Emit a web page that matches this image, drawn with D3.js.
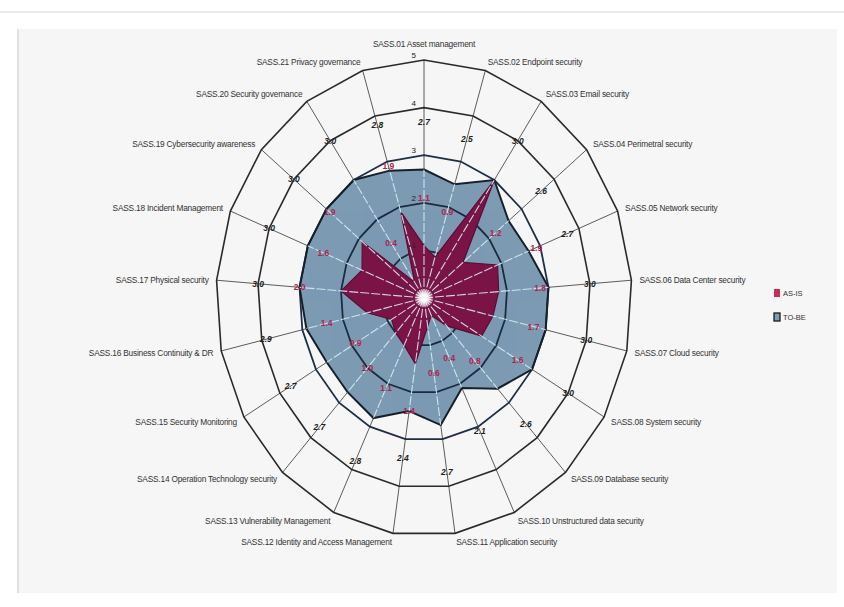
<!DOCTYPE html>
<html><head><meta charset="utf-8">
<script src="https://cdn.jsdelivr.net/npm/d3@7"></script>
<style>body{margin:0;background:#fff;} svg{display:block;}</style>
</head><body>
<svg id="c" width="844" height="607"></svg>
<script>
const categories = [
  "SASS.01 Asset management","SASS.02 Endpoint security","SASS.03 Email security",
  "SASS.04 Perimetral security","SASS.05 Network security","SASS.06 Data Center security",
  "SASS.07 Cloud security","SASS.08 System security","SASS.09 Database security",
  "SASS.10 Unstructured data security","SASS.11 Application security",
  "SASS.12 Identity and Access Management","SASS.13 Vulnerability Management",
  "SASS.14 Operation Technology security","SASS.15 Security Monitoring",
  "SASS.16 Business Continuity & DR","SASS.17 Physical security",
  "SASS.18 Incident Management","SASS.19 Cybersecurity awareness",
  "SASS.20 Security governance","SASS.21 Privacy governance"];
const asIs = [1.1,0.9,3.0,1.2,1.9,1.8,1.7,1.6,0.8,0.4,0.6,1.4,1.1,1.0,0.9,1.4,2.0,1.6,1.9,0.4,1.9];
const toBe = [2.7,2.5,3.0,2.6,2.7,3.0,3.0,3.0,2.6,2.1,2.7,2.4,2.8,2.7,2.7,2.9,3.0,3.0,3.0,3.0,2.8];
const ringTicks = [1,2,3,4,5];
const seriesNames = ["AS-IS","TO-BE"];

const W = 844, H = 607, cx = 424, cy = 298;
const svg = d3.select("#c");
svg.append("rect").attr("width", W).attr("height", H).attr("fill", "#ffffff");
svg.append("line").attr("x1", 0).attr("x2", W).attr("y1", 12).attr("y2", 12)
  .attr("stroke", "#e4e4e4").attr("stroke-width", 1.5);
svg.append("rect").attr("x", 18).attr("y", 29).attr("width", 819).attr("height", 564)
  .attr("fill", "#f6f6f6");
svg.append("line").attr("x1", 18).attr("x2", 18).attr("y1", 29).attr("y2", 593)
  .attr("stroke", "#d8d8d8").attr("stroke-width", 1.5);

const n = categories.length;
const angle = d3.scaleLinear().domain([0, n]).range([0, 2 * Math.PI]);
const rX = d3.scaleLinear().domain([0, 5]).range([0, 208]);
const rY = d3.scaleLinear().domain([0, 5]).range([0, 238]);
function pt(i, v) { const a = angle(i); return [cx + rX(v) * Math.sin(a), cy - rY(v) * Math.cos(a)]; }
const line = d3.line().curve(d3.curveLinearClosed);
const idx = d3.range(n);

const defs = svg.append("defs");
defs.append("clipPath").attr("id", "tobeClip").append("path")
  .attr("d", line(idx.map(i => pt(i, toBe[i]))));
const grad = defs.append("radialGradient").attr("id", "glow");
grad.append("stop").attr("offset", "0%").attr("stop-color", "#fff").attr("stop-opacity", 1);
grad.append("stop").attr("offset", "45%").attr("stop-color", "#fff").attr("stop-opacity", 0.8);
grad.append("stop").attr("offset", "100%").attr("stop-color", "#fff").attr("stop-opacity", 0);

// dark spokes
svg.append("g").selectAll("line").data(idx).join("line")
  .attr("x1", cx).attr("y1", cy)
  .attr("x2", i => pt(i, 5)[0]).attr("y2", i => pt(i, 5)[1])
  .attr("stroke", "#4a4a4a").attr("stroke-width", 0.9);

// outer rings
svg.append("g").selectAll("path").data([4, 5]).join("path")
  .attr("d", t => line(idx.map(i => pt(i, t))))
  .attr("fill", "none").attr("stroke", "#2a2a2a").attr("stroke-width", 1.6);

// TO-BE area
svg.append("path").attr("d", line(idx.map(i => pt(i, toBe[i]))))
  .attr("fill", "#7f9db2").attr("stroke", "none");

// inner rings
svg.append("g").selectAll("path").data([1, 2, 3]).join("path")
  .attr("d", t => line(idx.map(i => pt(i, t))))
  .attr("fill", "none").attr("stroke", "#1d2f44").attr("stroke-width", 1.8);

// TO-BE outline
svg.append("path").attr("d", line(idx.map(i => pt(i, toBe[i]))))
  .attr("fill", "none").attr("stroke", "#17222e").attr("stroke-width", 2);

// AS-IS area
svg.append("path").attr("d", line(idx.map(i => pt(i, asIs[i]))))
  .attr("fill", "#7b1748").attr("stroke", "#5c0f35").attr("stroke-width", 1.2)
  .attr("stroke-linejoin", "miter");

// light spokes inside TO-BE
svg.append("g").attr("clip-path", "url(#tobeClip)").selectAll("line").data(idx).join("line")
  .attr("x1", cx).attr("y1", cy)
  .attr("x2", i => pt(i, 5)[0]).attr("y2", i => pt(i, 5)[1])
  .attr("stroke", "#d6ecf3").attr("stroke-width", 1.1).attr("stroke-dasharray", "9,2")
  .attr("opacity", 0.9);

svg.append("circle").attr("cx", cx).attr("cy", cy).attr("r", 10).attr("fill", "url(#glow)");

// ring tick labels
svg.append("g").selectAll("text").data(ringTicks).join("text")
  .attr("x", cx - 8).attr("y", t => pt(0, t)[1] - 2)
  .attr("text-anchor", "end")
  .attr("font-family", "Liberation Sans, Arial, sans-serif").attr("font-size", 8)
  .attr("fill", "#222").text(t => t);

// category labels
const fmt = d3.format(".1f");
svg.append("g").selectAll("text").data(idx).join("text")
  .attr("x", i => { const a = angle(i); return cx + (rX(5) + 8) * Math.sin(a); })
  .attr("y", i => { const a = angle(i); const c = Math.cos(a); return cy - (rY(5) + (c > 0.99 ? 16 : 9)) * c; })
  .attr("text-anchor", i => { const s = Math.sin(angle(i)); return s > 0.05 ? "start" : s < -0.05 ? "end" : "middle"; })
  .attr("dominant-baseline", "central")
  .attr("font-family", "Liberation Sans, Arial, sans-serif").attr("font-size", 8.3)
  .attr("fill", "#333").attr("letter-spacing", -0.2)
  .text(i => categories[i]);

// AS-IS value labels
svg.append("g").selectAll("text").data(idx.filter(i => asIs[i] !== toBe[i])).join("text")
  .attr("x", i => pt(i, asIs[i] + 1)[0]).attr("y", i => pt(i, asIs[i] + 1)[1])
  .attr("text-anchor", "middle").attr("dominant-baseline", "central")
  .attr("font-family", "Liberation Sans, Arial, sans-serif").attr("font-size", 8.5)
  .attr("font-weight", "bold").attr("fill", "#b0244f")
  .text(i => fmt(asIs[i]));

// TO-BE value labels
svg.append("g").selectAll("text").data(idx).join("text")
  .attr("x", i => pt(i, toBe[i] + 1)[0]).attr("y", i => pt(i, toBe[i] + 1)[1])
  .attr("text-anchor", "middle").attr("dominant-baseline", "central")
  .attr("font-family", "Liberation Sans, Arial, sans-serif").attr("font-size", 8.5)
  .attr("font-weight", "bold").attr("font-style", "italic").attr("fill", "#1e1e1e")
  .text(i => fmt(toBe[i]));

// legend
const legend = svg.append("g").selectAll("g").data(seriesNames).join("g")
  .attr("transform", (d, i) => `translate(774,${293 + i * 24})`);
legend.append("rect").attr("x", 0).attr("y", -4).attr("width", 6).attr("height", 8)
  .attr("fill", (d, i) => i === 0 ? "#cc2a5a" : "#7f9db2")
  .attr("stroke", (d, i) => i === 0 ? "none" : "#1a1a1a").attr("stroke-width", 1.3);
legend.append("text").attr("x", 9).attr("y", 0).attr("dominant-baseline", "central")
  .attr("font-family", "Liberation Sans, Arial, sans-serif").attr("font-size", 7.5)
  .attr("fill", "#333").text(d => d);
</script>
</body></html>
